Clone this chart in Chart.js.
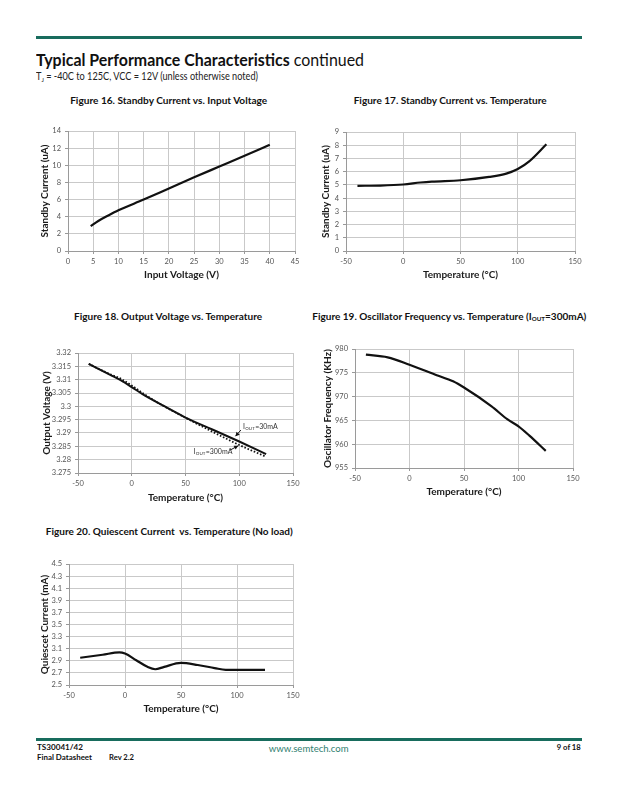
<!DOCTYPE html>
<html>
<head>
<meta charset="utf-8">
<script src="https://cdn.jsdelivr.net/npm/chart.js@4"></script>
<style>
  html,body{margin:0;padding:0;background:#fff;}
  body{width:618px;height:800px;position:relative;overflow:hidden;font-family:Lato,"Open Sans",sans-serif;}
  .rule{position:absolute;background:#186c5d;height:3px;}
  .t{position:absolute;white-space:nowrap;line-height:1;}
  .t sub{font-size:62%;vertical-align:-0.25em;line-height:0;}
  canvas{position:absolute;}
</style>
</head>
<body>
<div class="rule" style="left:36px;top:36px;width:546px;"></div>
<div class="rule" style="left:36px;top:738px;width:546px;"></div>

<div id="txt"></div>

<canvas id="c16"></canvas>
<canvas id="c17"></canvas>
<canvas id="c18"></canvas>
<canvas id="c19"></canvas>
<canvas id="c20"></canvas>

<script>
// ---------------- DATA ----------------
// Figure 16: Standby Current vs. Input Voltage
const fig16Voltage = [4.5, 6, 8, 10, 15, 20, 25, 30, 35, 40];
const fig16Current = [2.9, 3.5, 4.15, 4.75, 6.0, 7.3, 8.6, 9.85, 11.1, 12.4];
const fig16XTicks = {min: 0, max: 45, step: 5};
const fig16YTicks = {min: 0, max: 14, step: 2};

// Figure 17: Standby Current vs. Temperature
const fig17Temp = [-40, -20, 0, 15, 25, 50, 75, 90, 100, 110, 125];
const fig17Current = [4.93, 4.95, 5.03, 5.18, 5.25, 5.35, 5.6, 5.85, 6.2, 6.78, 8.07];
const fig17XTicks = {min: -50, max: 150, step: 50};
const fig17YTicks = {min: 0, max: 9, step: 1};

// Figure 18: Output Voltage vs. Temperature
const fig18Temp = [-40, -20, -10, 0, 10, 25, 50, 75, 100, 125];
const fig18Vout30mA = [3.3159, 3.3118, 3.3097, 3.3072, 3.3046, 3.3012, 3.2958, 3.2913, 3.2868, 3.2821];
const fig18Vout300mA = [3.3159, 3.3120, 3.3103, 3.3078, 3.3050, 3.3012, 3.2957, 3.2905, 3.2855, 3.2811];
const fig18XTicks = {min: -50, max: 150, step: 50};
const fig18YTicks = {min: 3.275, max: 3.32, step: 0.005};

// Figure 19: Oscillator Frequency vs. Temperature (IOUT=300mA)
const fig19Temp = [-40, -20, 0, 25, 40, 50, 75, 90, 100, 110, 125];
const fig19Freq = [978.8, 978.25, 976.7, 974.5, 973.2, 971.9, 968.0, 965.2, 963.75, 961.8, 958.6];
const fig19XTicks = {min: -50, max: 150, step: 50};
const fig19YTicks = {min: 955, max: 980, step: 5};

// Figure 20: Quiescent Current vs. Temperature (No load)
const fig20Temp = [-40, -20, -5, 0, 10, 20, 27, 35, 50, 65, 80, 90, 100, 125];
const fig20Iq = [2.95, 3.0, 3.04, 3.02, 2.91, 2.80, 2.76, 2.80, 2.865, 2.83, 2.78, 2.75, 2.75, 2.75];
const fig20XTicks = {min: -50, max: 150, step: 50};
const fig20YTicks = {min: 2.5, max: 4.5, step: 0.2};

// Figure 18 callouts (in data coordinates)
const fig18Callouts = [
  {sub: 'OUT', rest: '=30mA',  text: [103.5, 3.2922], from: [101.5, 3.2911], to: [96.5, 3.2888]},
  {sub: 'OUT', rest: '=300mA', text: [57.5, 3.2829],  from: [91.5, 3.2836], to: [99, 3.2852]}
];

// ---------------- PAGE TEXT ----------------
const pageTexts = [
  {html: '<b>Typical Performance Characteristics</b> continued', x: 36, base: 66.5, size: 17.5, w: 328, align: 'left', color: '#111'},
  {html: 'T<sub>J</sub> = -40C to 125C, VCC = 12V (unless otherwise noted)', x: 36, base: 80, size: 10.5, w: 222, align: 'left', color: '#222'},
  {html: '<b>Figure 16. Standby Current vs. Input Voltage</b>', x: 168.3, base: 104.7, size: 9.6, w: 197, align: 'center', color: '#111'},
  {html: '<b>Figure 17. Standby Current vs. Temperature</b>', x: 450, base: 104.7, size: 9.6, w: 193, align: 'center', color: '#111'},
  {html: '<b>Figure 18. Output Voltage vs. Temperature</b>', x: 168.2, base: 320.3, size: 9.6, w: 188, align: 'center', color: '#111'},
  {html: '<b>Figure 19. Oscillator Frequency vs. Temperature (I<sub>OUT</sub>=300mA)</b>', x: 449, base: 320.3, size: 9.6, w: 274, align: 'center', color: '#111'},
  {html: '<b>Figure 20. Quiescent Current&nbsp; vs. Temperature (No load)</b>', x: 169, base: 536, size: 9.6, w: 247, align: 'center', color: '#111'},
  {html: '<b>TS30041/42</b>', x: 37, base: 750.5, size: 7.6, w: 46, align: 'left', color: '#111'},
  {html: '<b>Final Datasheet</b>', x: 37, base: 760.8, size: 7.6, w: 55, align: 'left', color: '#111'},
  {html: '<b>Rev 2.2</b>', x: 109, base: 760.8, size: 7.6, w: 25, align: 'left', color: '#111'},
  {html: 'www.semtech.com', x: 309, base: 752, size: 9, w: 80, align: 'center', color: '#2f8070'},
  {html: '<b>9 of 18</b>', x: 581, base: 750.5, size: 7.6, w: 24, align: 'right', color: '#111'}
];

const holder = document.getElementById('txt');
pageTexts.forEach(p => {
  const d = document.createElement('div');
  d.className = 't';
  d.innerHTML = p.html;
  d.style.fontSize = p.size + 'px';
  d.style.color = p.color;
  d.style.top = (p.base - 0.887 * p.size) + 'px';
  holder.appendChild(d);
  const nat = d.getBoundingClientRect().width;
  const s = p.w / nat;
  let left = p.x;
  if (p.align === 'center') { left = p.x - nat / 2; d.style.transformOrigin = 'center'; }
  else if (p.align === 'right') { left = p.x - nat; d.style.transformOrigin = 'right'; }
  else { d.style.transformOrigin = 'left'; }
  d.style.left = left + 'px';
  d.style.transform = 'scaleX(' + s.toFixed(4) + ')';
});

// ---------------- CHARTS ----------------
Chart.defaults.font.family = 'Lato, "Open Sans", sans-serif';
Chart.defaults.color = '#444';

const fmt = v => String(Math.round(v * 10000) / 10000);

const calloutPlugin = {
  id: 'callouts',
  afterDatasetsDraw(chart, args, opts) {
    if (!opts.items) return;
    const {ctx, scales: {x, y}} = chart;
    ctx.save();
    opts.items.forEach(c => {
      let tx = x.getPixelForValue(c.text[0]);
      const ty = y.getPixelForValue(c.text[1]);
      ctx.fillStyle = '#333';
      ctx.textBaseline = 'middle';
      ctx.textAlign = 'left';
      ctx.font = '7px Lato, sans-serif';
      ctx.fillText('I', tx, ty);
      tx += ctx.measureText('I').width + 0.3;
      ctx.font = '4.5px Lato, sans-serif';
      ctx.fillText(c.sub, tx, ty + 1.8);
      tx += ctx.measureText(c.sub).width + 0.3;
      ctx.font = '7px Lato, sans-serif';
      ctx.fillText(c.rest, tx, ty);
      const fx = x.getPixelForValue(c.from[0]), fy = y.getPixelForValue(c.from[1]);
      const ex = x.getPixelForValue(c.to[0]), ey = y.getPixelForValue(c.to[1]);
      ctx.strokeStyle = '#111';
      ctx.lineWidth = 1;
      ctx.beginPath(); ctx.moveTo(fx, fy); ctx.lineTo(ex, ey); ctx.stroke();
      const ang = Math.atan2(ey - fy, ex - fx);
      const hl = 4, hw = 2.2;
      ctx.fillStyle = '#111';
      ctx.beginPath();
      ctx.moveTo(ex, ey);
      ctx.lineTo(ex - hl * Math.cos(ang) + hw * Math.sin(ang), ey - hl * Math.sin(ang) - hw * Math.cos(ang));
      ctx.lineTo(ex - hl * Math.cos(ang) - hw * Math.sin(ang), ey - hl * Math.sin(ang) + hw * Math.cos(ang));
      ctx.closePath(); ctx.fill();
    });
    ctx.restore();
  }
};

function series(xs, ys, style) {
  return Object.assign({
    data: xs.map((v, i) => ({x: v, y: ys[i]})),
    borderColor: '#111',
    borderWidth: 2.2,
    pointRadius: 0,
    fill: false,
    cubicInterpolationMode: 'monotone'
  }, style || {});
}

function makeChart(id, g, xr, yr, datasets, xTitle, yTitle, callouts) {
  const cx = g.L - 62, cy = g.T - 14;
  const cw = (g.R + 22) - cx, ch = (g.B + 38) - cy;
  const cv = document.getElementById(id);
  cv.width = cw; cv.height = ch;
  cv.style.left = cx + 'px'; cv.style.top = cy + 'px';
  cv.style.width = cw + 'px'; cv.style.height = ch + 'px';
  const gridCol = '#c9c9c9';
  new Chart(cv, {
    type: 'line',
    data: {datasets},
    plugins: [calloutPlugin],
    options: {
      responsive: false,
      animation: false,
      devicePixelRatio: 1,
      layout: {padding: {left: 0, top: g.T - cy, right: cx + cw - g.R, bottom: 0}},
      plugins: {legend: {display: false}, tooltip: {enabled: false}, title: {display: false},
                callouts: {items: callouts || null}},
      scales: {
        x: {
          type: 'linear', min: xr.min, max: xr.max,
          afterFit(s) { s.height = cy + ch - g.B; },
          ticks: {stepSize: xr.step, font: {size: 7.5}, color: '#555', padding: 3, maxRotation: 0, autoSkip: false, callback: fmt},
          grid: {color: gridCol, lineWidth: 1, tickLength: 3, tickColor: '#999'},
          border: {color: '#9a9a9a'},
          title: {display: true, text: xTitle, color: '#1a1a1a', font: {size: 10, weight: 'bold'},
                  padding: {top: 0, bottom: (cy + ch) - g.xTitleY - 6}}
        },
        y: {
          type: 'linear', min: yr.min, max: yr.max,
          afterFit(s) { s.width = g.L - cx; },
          ticks: {stepSize: yr.step, font: {size: 7.5}, color: '#555', padding: 4, autoSkip: false, callback: fmt},
          grid: {color: gridCol, lineWidth: 1, tickLength: 3, tickColor: '#999'},
          border: {color: '#9a9a9a'},
          title: {display: true, text: yTitle, color: '#1a1a1a', font: {size: 10, weight: 'bold'},
                  padding: {top: g.yTitleX - cx - 6, bottom: 0}}
        }
      }
    }
  });
}

makeChart('c16', {L: 68, T: 131, R: 295, B: 251, yTitleX: 45, xTitleY: 275},
  fig16XTicks, fig16YTicks, [series(fig16Voltage, fig16Current)],
  'Input Voltage (V)', 'Standby Current (uA)');

makeChart('c17', {L: 346, T: 132, R: 575, B: 251, yTitleX: 326, xTitleY: 274.3},
  fig17XTicks, fig17YTicks, [series(fig17Temp, fig17Current)],
  'Temperature (°C)', 'Standby Current (uA)');

makeChart('c18', {L: 78, T: 353, R: 293, B: 473, yTitleX: 47, xTitleY: 497.3},
  fig18XTicks, fig18YTicks,
  [series(fig18Temp, fig18Vout30mA, {borderWidth: 2}),
   series(fig18Temp, fig18Vout300mA, {borderWidth: 1.8, borderDash: [1.6, 1.8], borderCapStyle: 'butt'})],
  'Temperature (°C)', 'Output Voltage (V)', fig18Callouts);

makeChart('c19', {L: 355, T: 349, R: 573, B: 468, yTitleX: 328, xTitleY: 491.7},
  fig19XTicks, fig19YTicks, [series(fig19Temp, fig19Freq)],
  'Temperature (°C)', 'Oscillator Frequency (KHz)');

makeChart('c20', {L: 69, T: 564, R: 293, B: 685, yTitleX: 45, xTitleY: 708.3},
  fig20XTicks, fig20YTicks, [series(fig20Temp, fig20Iq)],
  'Temperature (°C)', 'Quiescet Current (mA)');
</script>
</body>
</html>
